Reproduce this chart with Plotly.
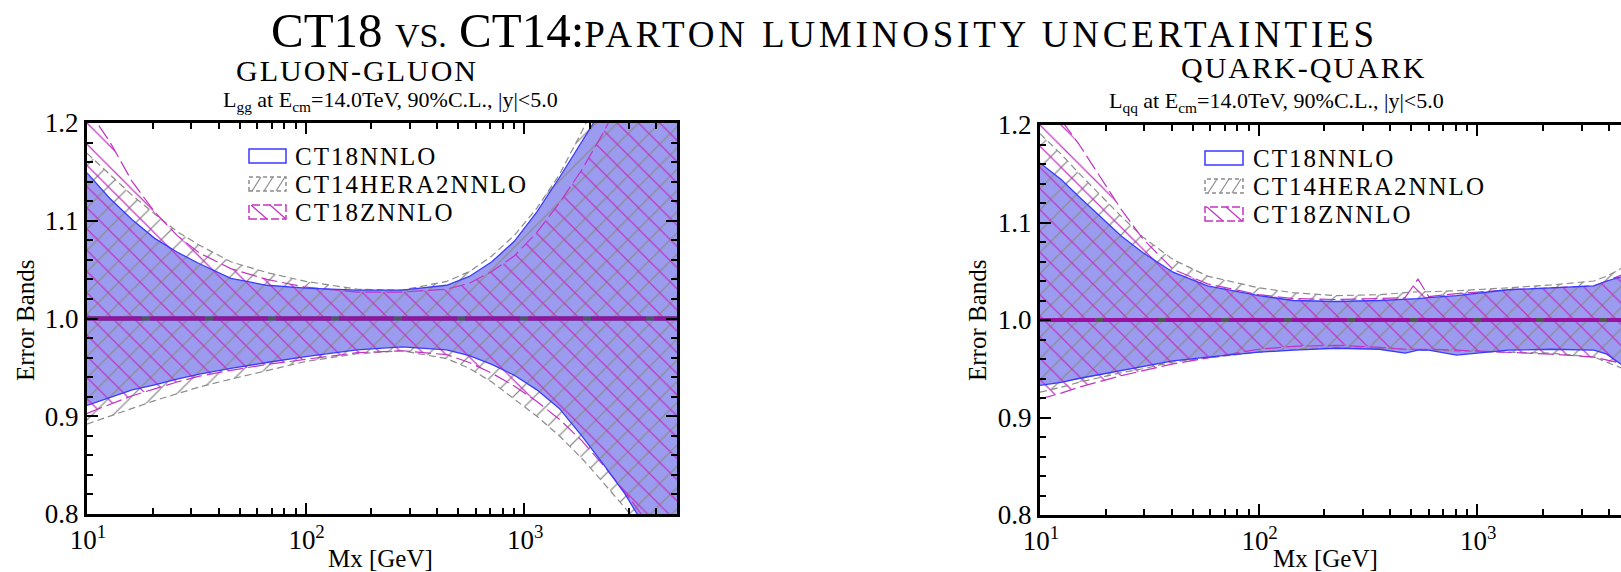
import numpy as np
import plotly.graph_objects as go

W, H = 1621, 572
SERIF = "Liberation Serif"


def px(x):
    """pixel column -> paper x"""
    return x / W


def py(y):
    """pixel row -> paper y"""
    return 1 - y / H


# ---------------- gluon-gluon luminosity (ratio to central fit) ----------------
mx_gg = [10, 12.7, 16.1, 20.4, 25.8, 32.7, 45.5, 66.5, 100, 172, 276, 442,
         561, 711, 901, 1143, 1447, 1834, 2300, 2900, 3700, 5000]
gg_ct18_hi = [1.149, 1.123, 1.101, 1.082, 1.068, 1.056, 1.041, 1.034, 1.031, 1.029, 1.029, 1.034,
              1.043, 1.058, 1.079, 1.109, 1.144, 1.181, 1.215, 1.250, 1.290, 1.350]
gg_ct18_lo = [0.911, 0.919, 0.927, 0.932, 0.938, 0.943, 0.949, 0.955, 0.961, 0.968, 0.971, 0.968,
              0.962, 0.953, 0.942, 0.927, 0.908, 0.880, 0.851, 0.820, 0.781, 0.740]
gg_ct14_hi = [1.169, 1.147, 1.126, 1.107, 1.089, 1.075, 1.058, 1.047, 1.038, 1.030, 1.029, 1.038,
              1.048, 1.064, 1.085, 1.113, 1.147, 1.191, 1.235, 1.280, 1.330, 1.400]
gg_ct14_lo = [0.892, 0.900, 0.908, 0.916, 0.923, 0.930, 0.938, 0.947, 0.956, 0.964, 0.967, 0.959,
              0.949, 0.935, 0.918, 0.900, 0.880, 0.857, 0.832, 0.806, 0.775, 0.730]
gg_ct18z_hi = [1.215, 1.181, 1.140, 1.109, 1.085, 1.067, 1.051, 1.040, 1.032, 1.027, 1.027, 1.030,
               1.036, 1.048, 1.064, 1.088, 1.118, 1.152, 1.190, 1.235, 1.280, 1.350]
gg_ct18z_lo = [0.903, 0.912, 0.921, 0.928, 0.935, 0.941, 0.947, 0.953, 0.958, 0.965, 0.967, 0.963,
               0.955, 0.944, 0.931, 0.915, 0.897, 0.875, 0.850, 0.822, 0.790, 0.745]

# ---------------- quark-quark luminosity (ratio to central fit) ----------------
mx_qq = [10, 12.5, 15, 18.9, 23.6, 29.6, 40.6, 58.4, 100, 144, 227, 357,
         468, 536, 600, 805, 1385, 2177, 3420, 3918, 4660, 5000]
qq_ct18_hi = [1.161, 1.144, 1.127, 1.106, 1.086, 1.069, 1.049, 1.035, 1.025, 1.020, 1.019, 1.020,
              1.021, 1.022, 1.023, 1.025, 1.031, 1.033, 1.035, 1.040, 1.045, 1.048]
qq_ct18_lo = [0.933, 0.936, 0.940, 0.944, 0.948, 0.952, 0.958, 0.962, 0.967, 0.969, 0.971, 0.970,
              0.966, 0.969, 0.969, 0.964, 0.969, 0.970, 0.969, 0.965, 0.953, 0.950]
qq_ct14_hi = [1.191, 1.170, 1.151, 1.128, 1.106, 1.085, 1.062, 1.045, 1.033, 1.028, 1.025, 1.026,
              1.028, 1.029, 1.029, 1.030, 1.033, 1.036, 1.040, 1.045, 1.054, 1.058]
qq_ct14_lo = [0.926, 0.931, 0.936, 0.941, 0.946, 0.950, 0.957, 0.961, 0.967, 0.970, 0.972, 0.971,
              0.970, 0.969, 0.969, 0.968, 0.967, 0.966, 0.962, 0.957, 0.950, 0.946]
qq_ct18z_hi = [1.240, 1.205, 1.181, 1.147, 1.113, 1.083, 1.052, 1.037, 1.026, 1.022, 1.021, 1.022,
               1.023, 1.042, 1.024, 1.027, 1.031, 1.033, 1.035, 1.040, 1.047, 1.050]
qq_ct18z_lo = [0.919, 0.925, 0.931, 0.937, 0.943, 0.948, 0.955, 0.961, 0.970, 0.973, 0.974, 0.972,
               0.970, 0.970, 0.970, 0.969, 0.967, 0.965, 0.962, 0.959, 0.955, 0.952]

# central members: every band is normalised to its own central fit
center_mx = [10, 5000]
center_ratio = [1.0, 1.0]

set_names = ["CT18NNLO", "CT14HERA2NNLO", "CT18ZNNLO"]

BLUE_FILL = "#9b9bef"
BLUE_LINE = "#3a3aff"
GRAY = "#8c8c8c"
MAGENTA = "#c234c2"
CENTER = "#99119e"
HATCH = 15

fig = go.Figure()


def closed(mx, hi, lo):
    return list(mx) + list(mx)[::-1], list(hi) + list(lo)[::-1]


def edges(mx, hi, lo):
    return list(mx) + [None] + list(mx), list(hi) + [None] + list(lo)


def add_panel(xa, ya, mx, ct18, ct14, ct18z):
    # CT18: solid blue band
    x, y = closed(mx, *ct18)
    fig.add_trace(go.Scatter(x=x, y=y, xaxis=xa, yaxis=ya, mode="lines", fill="toself",
                             fillcolor=BLUE_FILL, line=dict(width=0), hoverinfo="skip",
                             showlegend=False, name=set_names[0]))
    # CT14HERA2: grey "/" hatch
    x, y = closed(mx, *ct14)
    fig.add_trace(go.Scatter(x=x, y=y, xaxis=xa, yaxis=ya, mode="lines", fill="toself",
                             fillpattern=dict(shape="/", fgcolor=GRAY, bgcolor="rgba(0,0,0,0)",
                                              size=HATCH, solidity=0.08),
                             line=dict(width=0), hoverinfo="skip", showlegend=False,
                             name=set_names[1]))
    # CT18Z: magenta "\" hatch
    x, y = closed(mx, *ct18z)
    fig.add_trace(go.Scatter(x=x, y=y, xaxis=xa, yaxis=ya, mode="lines", fill="toself",
                             fillpattern=dict(shape="\\", fgcolor=MAGENTA, bgcolor="rgba(0,0,0,0)",
                                              size=HATCH, solidity=0.08),
                             line=dict(width=0), hoverinfo="skip", showlegend=False,
                             name=set_names[2]))
    # band edges
    for band, col, width, dash in [(ct14, GRAY, 1.2, "7px,4px"),
                                   (ct18z, MAGENTA, 1.2, "16px,5px"),
                                   (ct18, BLUE_LINE, 1.3, "solid")]:
        x, y = edges(mx, *band)
        fig.add_trace(go.Scatter(x=x, y=y, xaxis=xa, yaxis=ya, mode="lines",
                                 line=dict(color=col, width=width, dash=dash),
                                 hoverinfo="skip", showlegend=False, connectgaps=False))
    # central values
    for col, width, dash in [(BLUE_LINE, 4, "solid"), ("#555555", 4, "solid"),
                             (CENTER, 4, "55px,8px")]:
        fig.add_trace(go.Scatter(x=center_mx, y=center_ratio, xaxis=xa, yaxis=ya, mode="lines",
                                 line=dict(color=col, width=width, dash=dash),
                                 hoverinfo="skip", showlegend=False))


add_panel("x", "y", mx_gg, (gg_ct18_hi, gg_ct18_lo), (gg_ct14_hi, gg_ct14_lo),
          (gg_ct18z_hi, gg_ct18z_lo))
add_panel("x2", "y2", mx_qq, (qq_ct18_hi, qq_ct18_lo), (qq_ct14_hi, qq_ct14_lo),
          (qq_ct18z_hi, qq_ct18z_lo))

x_minor = [20, 30, 40, 50, 60, 70, 80, 90, 200, 300, 400, 500, 600, 700, 800, 900,
           2000, 3000, 4000, 5000]
x_major = [10, 100, 1000]
x_major_text = ["10<sup>1</sup>", "10<sup>2</sup>", "10<sup>3</sup>"]

tickfont = dict(family=SERIF, size=27, color="black")


def xaxis_cfg(domain, rng, anchor):
    return dict(type="log", domain=domain, range=rng, anchor=anchor,
                showline=True, linecolor="black", linewidth=3, mirror="ticks",
                ticks="inside", ticklen=11, tickwidth=2, tickcolor="black",
                tickmode="array", tickvals=x_major, ticktext=x_major_text,
                tickfont=tickfont, ticklabelshift=1, showgrid=False, zeroline=False,
                minor=dict(ticks="inside", ticklen=6, tickwidth=2, tickcolor="black",
                           tickmode="array", tickvals=x_minor, showgrid=False))


def yaxis_cfg(domain, anchor, mirror):
    return dict(domain=domain, range=[0.8, 1.2], anchor=anchor,
                showline=True, linecolor="black", linewidth=3, mirror=mirror,
                ticks="inside", ticklen=11, tickwidth=2, tickcolor="black",
                tick0=0.8, dtick=0.1, tickformat=".1f", tickfont=tickfont,
                showgrid=False, zeroline=False,
                minor=dict(ticks="inside", ticklen=6, tickwidth=2, tickcolor="black",
                           tick0=0.8, dtick=0.02, showgrid=False))


left_x0, left_x1 = 87, 677
right_x0 = 1040
decade_px = (left_x1 - left_x0) / (np.log10(5000) - 1)
right_end = 1 + (W - right_x0) / decade_px

fig.update_layout(
    xaxis=xaxis_cfg([px(left_x0), px(left_x1)], [1, np.log10(5000)], "y"),
    yaxis=yaxis_cfg([py(514), py(123)], "x", "ticks"),
    xaxis2=xaxis_cfg([px(right_x0), 1.0], [1, right_end], "y2"),
    yaxis2=yaxis_cfg([py(515), py(125)], "x2", False),
)

annotations = []


def text(x, y, s, size, **kw):
    d = dict(x=px(x), y=py(y), xref="paper", yref="paper", text=s, showarrow=False,
             font=dict(family=SERIF, size=size, color="black"))
    d.update(kw)
    annotations.append(d)


# main heading
text(269, 31,
     'CT18 <span style="font-size:34px">VS.</span> CT14:'
     '<span style="font-size:37px;letter-spacing:3.8px">PARTON LUMINOSITY UNCERTAINTIES</span>',
     49, xanchor="left", yanchor="middle")
# panel names
text(357, 70, '<span style="letter-spacing:2px">GLUON-GLUON</span>', 30,
     xanchor="center", yanchor="middle")
text(1303, 68, '<span style="letter-spacing:2px">QUARK-QUARK</span>', 30,
     xanchor="center", yanchor="middle")
# panel captions
text(390, 101, "L<sub>gg</sub> at E<sub>cm</sub>=14.0TeV, 90%C.L., |y|&lt;5.0", 22,
     xanchor="center", yanchor="middle")
text(1276, 102, "L<sub>qq</sub> at E<sub>cm</sub>=14.0TeV, 90%C.L., |y|&lt;5.0", 22,
     xanchor="center", yanchor="middle")
# axis titles
for xc in (25, 977):
    text(xc, 320, "Error Bands", 25, textangle=-90, xanchor="center", yanchor="middle")
for xc in (380, 1325):
    text(xc, 558, "Mx [GeV]", 25, xanchor="center", yanchor="middle")

# legends
shapes = []


def rect(x0, y0, x1, y1, color, dash="solid"):
    shapes.append(dict(type="rect", xref="paper", yref="paper", x0=px(x0), x1=px(x1),
                       y0=py(y1), y1=py(y0), line=dict(color=color, width=1.5, dash=dash),
                       fillcolor="white", layer="above"))


def seg(x0, y0, x1, y1, color):
    shapes.append(dict(type="line", xref="paper", yref="paper", x0=px(x0), x1=px(x1),
                       y0=py(y0), y1=py(y1), line=dict(color=color, width=1.2),
                       layer="above"))


def legend(sx0, sx1, tx, rows):
    h = 7
    for name, yc in zip(set_names, rows):
        text(tx, yc, f'<span style="letter-spacing:2px">{name}</span>', 25,
             xanchor="left", yanchor="middle")
    y0 = rows[0]
    rect(sx0, y0 - h, sx1, y0 + h, BLUE_LINE)
    y1 = rows[1]
    rect(sx0, y1 - h, sx1, y1 + h, GRAY, dash="4px,3px")
    for k in range(3):
        xs = sx0 + 3 + k * 12
        seg(xs, y1 + h, xs + 9, y1 - h, GRAY)
    y2 = rows[2]
    rect(sx0, y2 - h, sx1, y2 + h, MAGENTA, dash="8px,3px")
    for k in range(2):
        xs = sx0 + 2 + k * 19
        seg(xs, y2 - h, xs + 16, y2 + h, MAGENTA)


legend(249, 286, 293, [156, 184, 212])
legend(1205, 1243, 1251, [158, 186, 214])

fig.update_layout(
    width=W, height=H, margin=dict(l=0, r=0, t=0, b=0),
    paper_bgcolor="white", plot_bgcolor="white", template="none",
    showlegend=False, annotations=annotations, shapes=shapes,
)

fig.write_html("out.html")
